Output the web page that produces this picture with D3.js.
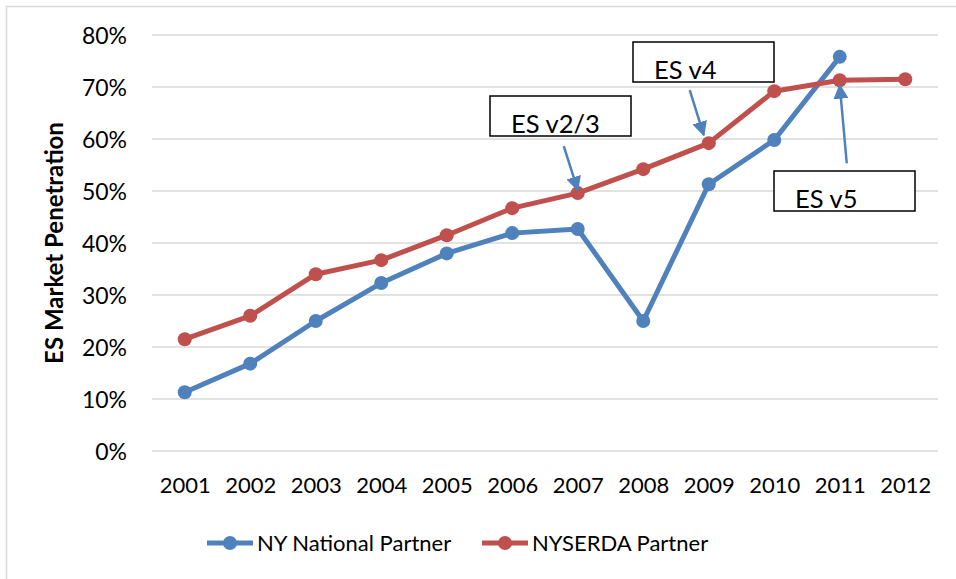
<!DOCTYPE html>
<html>
<head>
<meta charset="utf-8">
<script src="https://cdn.jsdelivr.net/npm/d3@7"></script>
<style>
  body { margin: 0; background: #fff; }
  svg { display: block; font-family: Lato, "Open Sans", sans-serif; }
</style>
</head>
<body>
<div class="chart"></div>
<script>
(function() {

// data
var years = ['2001','2002','2003','2004','2005','2006','2007','2008','2009','2010','2011','2012'];
var nationalPartner = [0.113, 0.168, 0.250, 0.323, 0.380, 0.419, 0.427, 0.250, 0.513, 0.598, 0.758, null];
var nyserdaPartner  = [0.215, 0.260, 0.340, 0.367, 0.415, 0.467, 0.496, 0.542, 0.592, 0.692, 0.713, 0.715];
var yTicks = [0, 0.1, 0.2, 0.3, 0.4, 0.5, 0.6, 0.7, 0.8];

// callouts: label and the year of the NYSERDA point they point to
var annLabels = ['ES v2/3', 'ES v4', 'ES v5'];
var annYears  = ['2007', '2009', '2011'];

var width = 956, height = 579;
var blue = '#4f81bd', red = '#c0504d', grid = '#d9d9d9';

var svg = d3.select('.chart')
  .append('svg')
  .attr('width', width)
  .attr('height', height);

// outer chart border (only top and left visible)
svg.append('rect')
  .attr('x', 6.5).attr('y', 6.5)
  .attr('width', 980).attr('height', 600)
  .attr('fill', 'none')
  .attr('stroke', grid)
  .attr('stroke-width', 1.5);

var x = d3.scalePoint().domain(years).range([152, 938]).padding(0.5);
var y = d3.scaleLinear().domain([0, 0.8]).range([451, 35]);

// gridlines
svg.append('g').selectAll('line').data(yTicks).enter()
  .append('line')
  .attr('x1', 152).attr('x2', 938)
  .attr('y1', function(d){ return y(d); })
  .attr('y2', function(d){ return y(d); })
  .attr('stroke', grid)
  .attr('stroke-width', 1.5);

// y axis labels
var yAxis = svg.append('g')
  .attr('transform', 'translate(127,0)')
  .call(d3.axisLeft(y).tickValues(yTicks).tickFormat(d3.format('.0%')).tickSize(0).tickPadding(0));
yAxis.select('.domain').remove();
yAxis.selectAll('text')
  .attr('font-family', 'Lato, sans-serif')
  .attr('font-size', 23)
  .attr('fill', '#000')
  .attr('dy', '0.35em');

// x axis labels
var xAxis = svg.append('g')
  .attr('transform', 'translate(0,476)')
  .call(d3.axisBottom(x).tickSize(0).tickPadding(0));
xAxis.select('.domain').remove();
xAxis.selectAll('text')
  .attr('font-family', 'Lato, sans-serif')
  .attr('font-size', 22)
  .attr('fill', '#000')
  .attr('dy', '0.75em');

// y axis title
svg.append('text')
  .attr('transform', 'translate(63,243) rotate(-90)')
  .attr('text-anchor', 'middle')
  .attr('font-size', 24)
  .attr('font-weight', 'bold')
  .text('ES Market Penetration');

var series = [
  { name: 'NY National Partner', values: nationalPartner, color: blue },
  { name: 'NYSERDA Partner', values: nyserdaPartner, color: red }
];

var line = d3.line()
  .defined(function(d){ return d.v != null; })
  .x(function(d){ return x(d.year); })
  .y(function(d){ return y(d.v); });

series.forEach(function(s) {
  var pts = years.map(function(yr, i){ return { year: yr, v: s.values[i] }; });
  svg.append('path')
    .datum(pts)
    .attr('d', line)
    .attr('fill', 'none')
    .attr('stroke', s.color)
    .attr('stroke-width', 5)
    .attr('stroke-linejoin', 'round');
  svg.append('g').selectAll('circle')
    .data(pts.filter(function(d){ return d.v != null; })).enter()
    .append('circle')
    .attr('cx', function(d){ return x(d.year); })
    .attr('cy', function(d){ return y(d.v); })
    .attr('r', 7)
    .attr('fill', s.color);
});

// arrowhead
svg.append('defs').append('marker')
  .attr('id', 'arrow')
  .attr('viewBox', '0 0 10 10')
  .attr('refX', 9).attr('refY', 5)
  .attr('markerWidth', 6).attr('markerHeight', 6)
  .attr('markerUnits', 'strokeWidth')
  .attr('orient', 'auto')
  .append('path')
  .attr('d', 'M0,0 L10,5 L0,10 Z')
  .attr('fill', blue);

// callout layout (offsets from the pointed point, in px)
var annLayout = [
  { box: [490, 96], from: [-14, -47], to: [0, -3] },
  { box: [633, 42], from: [-19, -53], to: [-5, -8] },
  { box: [774, 171], from: [7, 83], to: [0, 5] }
];

annLabels.forEach(function(label, i) {
  var idx = years.indexOf(annYears[i]);
  var px = x(annYears[i]), py = y(nyserdaPartner[idx]);
  var L = annLayout[i];

  svg.append('line')
    .attr('x1', px + L.from[0]).attr('y1', py + L.from[1])
    .attr('x2', px + L.to[0]).attr('y2', py + L.to[1])
    .attr('stroke', blue)
    .attr('stroke-width', 2.5)
    .attr('marker-end', 'url(#arrow)');

  svg.append('rect')
    .attr('x', L.box[0]).attr('y', L.box[1])
    .attr('width', 141).attr('height', 40)
    .attr('fill', '#fff')
    .attr('stroke', '#000')
    .attr('stroke-width', 1.5);

  svg.append('text')
    .attr('x', L.box[0] + 21).attr('y', L.box[1] + 37)
    .attr('font-size', 25.5)
    .text(label);
});

// legend
var legend = [
  { name: 'NY National Partner', color: blue, x: 207 },
  { name: 'NYSERDA Partner', color: red, x: 482 }
];
var lg = svg.append('g').selectAll('g').data(legend).enter()
  .append('g')
  .attr('transform', function(d){ return 'translate(' + d.x + ',543)'; });
lg.append('line')
  .attr('x1', 0).attr('x2', 46)
  .attr('stroke', function(d){ return d.color; })
  .attr('stroke-width', 5);
lg.append('circle')
  .attr('cx', 23).attr('r', 7)
  .attr('fill', function(d){ return d.color; });
lg.append('text')
  .attr('x', 50)
  .attr('dy', '0.35em')
  .attr('font-size', 22)
  .text(function(d){ return d.name; });

})();
</script>
</body>
</html>
